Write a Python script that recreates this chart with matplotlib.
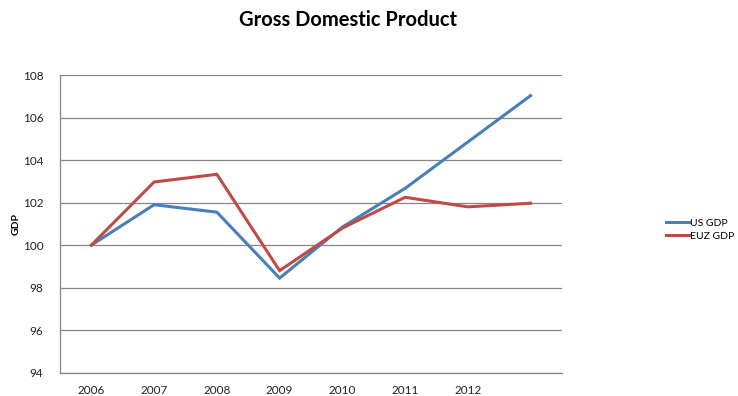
import matplotlib.pyplot as plt
from matplotlib.lines import Line2D

# GDP index, 2006 = 100 (last category has no label)
years = ["2006", "2007", "2008", "2009", "2010", "2011", "2012", ""]
us_gdp = [100.0, 101.9, 101.55, 98.45, 100.85, 102.67, 104.85, 107.03]
euz_gdp = [100.0, 102.97, 103.33, 98.8, 100.8, 102.25, 101.8, 101.97]

plt.rcParams['font.family'] = ['Lato', 'DejaVu Sans']

fig = plt.figure(figsize=(7.38, 3.96), dpi=100)
ax = fig.add_axes([0.0813, 0.0588, 0.6802, 0.7518])

x = list(range(len(years)))
ax.plot(x, us_gdp, color="#4A7EBB", lw=2.2, label="US GDP", solid_joinstyle="miter")
ax.plot(x, euz_gdp, color="#BE4B48", lw=2.2, label="EUZ GDP", solid_joinstyle="miter")

ax.set_xlim(-0.5, len(years) - 0.5)
ax.set_ylim(94, 108)
ax.set_yticks(range(94, 109, 2))
ax.set_xticks(x)
ax.set_xticklabels(years)

ax.grid(axis="y", color="#868686", lw=0.9)
ax.set_axisbelow(True)
for s in ["top", "right"]:
    ax.spines[s].set_visible(False)
for s in ["left", "bottom"]:
    ax.spines[s].set_color("#868686")
    ax.spines[s].set_linewidth(0.9)
ax.tick_params(length=0, labelsize=8.5, colors="#222222", pad=9)
ax.tick_params(axis="y", pad=12)

ax.set_ylabel("GDP", fontsize=7.5, fontweight="bold")
ax.yaxis.set_label_coords(-0.078, 0.5)
fig.suptitle("Gross Domestic Product", x=0.471, y=0.975, fontsize=14.5, fontweight="bold")

handles = [Line2D([], [], color="#4A7EBB", lw=2.2), Line2D([], [], color="#BE4B48", lw=2.2)]
fig.legend(handles, ["US GDP", "EUZ GDP"], loc="center left", bbox_to_anchor=(0.897, 0.42),
           frameon=False, fontsize=7.5, handlelength=2.2, handletextpad=0.05,
           labelspacing=0.3, borderaxespad=0)

fig.savefig("out.png", dpi=100)
